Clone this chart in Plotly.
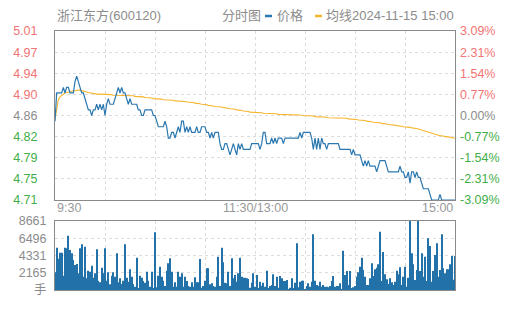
import plotly.graph_objects as go

# ---------------- data ----------------
stock_name = "浙江东方(600120)"
chart_name = "分时图"
legend_price = "价格"
legend_avg = "均线2024-11-15 15:00"
prev_close = 4.86
price_min, price_max = 4.71, 5.01
vol_max = 8661

time_labels = ["9:30", "11:30/13:00", "15:00"]
time_label_minutes = [0, 120, 240]

price_tick_text = ["4.71", "4.75", "4.79", "4.82", "4.86", "4.90", "4.94", "4.97", "5.01"]
pct_tick_text = ["-3.09%", "-2.31%", "-1.54%", "-0.77%", "0.00%", "0.77%", "1.54%", "2.31%", "3.09%"]
vol_tick_text = ["手", "2165", "4331", "6496", "8661"]

price = [
    4.85, 4.90, 4.90, 4.90, 4.90, 4.91, 4.90, 4.91, 4.91, 4.90,
    4.90, 4.90, 4.92, 4.93, 4.92, 4.91, 4.90, 4.90, 4.89, 4.88,
    4.87, 4.87, 4.86, 4.87, 4.87, 4.88, 4.87, 4.88, 4.87, 4.88,
    4.86, 4.88, 4.89, 4.88, 4.88, 4.88, 4.89, 4.90, 4.91, 4.90,
    4.91, 4.90, 4.90, 4.89, 4.88, 4.89, 4.88, 4.88, 4.88, 4.88,
    4.87, 4.87, 4.86, 4.86, 4.87, 4.87, 4.87, 4.87, 4.87, 4.86,
    4.86, 4.85, 4.84, 4.84, 4.84, 4.84, 4.85, 4.84, 4.82, 4.82,
    4.83, 4.83, 4.82, 4.83, 4.84, 4.83, 4.85, 4.85, 4.83, 4.84,
    4.83, 4.84, 4.83, 4.83, 4.83, 4.84, 4.83, 4.83, 4.84, 4.84,
    4.84, 4.83, 4.83, 4.82, 4.83, 4.82, 4.83, 4.83, 4.83, 4.81,
    4.80, 4.80, 4.81, 4.81, 4.80, 4.79, 4.80, 4.81, 4.80, 4.79,
    4.81, 4.80, 4.81, 4.80, 4.80, 4.80, 4.80, 4.80, 4.81, 4.81,
    4.81, 4.81, 4.81, 4.80, 4.81, 4.83, 4.83, 4.81, 4.81, 4.81,
    4.82, 4.81, 4.82, 4.81, 4.82, 4.82, 4.82, 4.81, 4.82, 4.82,
    4.82, 4.82, 4.82, 4.82, 4.82, 4.82, 4.82, 4.83, 4.82, 4.83,
    4.83, 4.83, 4.83, 4.83, 4.82, 4.80, 4.82, 4.80, 4.82, 4.80,
    4.82, 4.81, 4.81, 4.80, 4.81, 4.81, 4.81, 4.81, 4.81, 4.81,
    4.81, 4.80, 4.80, 4.80, 4.80, 4.80, 4.80, 4.80, 4.79, 4.80,
    4.79, 4.79, 4.79, 4.79, 4.78, 4.77, 4.78, 4.77, 4.78, 4.77,
    4.77, 4.77, 4.77, 4.76, 4.77, 4.78, 4.78, 4.78, 4.78, 4.77,
    4.76, 4.76, 4.76, 4.76, 4.76, 4.76, 4.76, 4.77, 4.76, 4.76,
    4.75, 4.75, 4.76, 4.74, 4.76, 4.76, 4.75, 4.76, 4.75, 4.75,
    4.74, 4.73, 4.73, 4.73, 4.73, 4.72, 4.71, 4.71, 4.71, 4.71,
    4.71, 4.72, 4.71, 4.71, 4.71, 4.71, 4.71, 4.71, 4.71, 4.71, 4.71,
]

avg_price = [
    4.853, 4.875, 4.888, 4.893, 4.896, 4.898, 4.900, 4.901, 4.902, 4.903,
    4.903, 4.904, 4.904, 4.905, 4.905, 4.905, 4.904, 4.903, 4.903, 4.902,
    4.901, 4.900, 4.900, 4.899, 4.899, 4.898, 4.898, 4.898, 4.897, 4.897,
    4.897, 4.897, 4.897, 4.897, 4.897, 4.896, 4.896, 4.896, 4.896, 4.896,
    4.896, 4.896, 4.896, 4.895, 4.895, 4.895, 4.895, 4.895, 4.894, 4.894,
    4.894, 4.893, 4.893, 4.893, 4.892, 4.892, 4.892, 4.891, 4.891, 4.890,
    4.890, 4.890, 4.889, 4.889, 4.889, 4.888, 4.888, 4.888, 4.887, 4.887,
    4.887, 4.887, 4.886, 4.886, 4.886, 4.886, 4.885, 4.885, 4.885, 4.884,
    4.884, 4.884, 4.883, 4.883, 4.882, 4.882, 4.881, 4.881, 4.880, 4.880,
    4.879, 4.879, 4.878, 4.878, 4.877, 4.877, 4.876, 4.876, 4.876, 4.875,
    4.875, 4.874, 4.874, 4.873, 4.873, 4.872, 4.872, 4.871, 4.871, 4.870,
    4.870, 4.869, 4.869, 4.868, 4.868, 4.867, 4.867, 4.866, 4.866, 4.866,
    4.865, 4.865, 4.865, 4.865, 4.865, 4.864, 4.864, 4.864, 4.864, 4.863,
    4.863, 4.863, 4.863, 4.863, 4.862, 4.862, 4.862, 4.862, 4.862, 4.862,
    4.862, 4.861, 4.861, 4.861, 4.861, 4.861, 4.861, 4.861, 4.860, 4.860,
    4.860, 4.860, 4.860, 4.860, 4.859, 4.859, 4.858, 4.858, 4.857, 4.857,
    4.857, 4.857, 4.857, 4.857, 4.856, 4.856, 4.856, 4.856, 4.856, 4.856,
    4.856, 4.856, 4.855, 4.855, 4.855, 4.855, 4.854, 4.854, 4.854, 4.853,
    4.853, 4.853, 4.852, 4.852, 4.852, 4.851, 4.851, 4.850, 4.850, 4.849,
    4.849, 4.848, 4.848, 4.848, 4.847, 4.847, 4.846, 4.846, 4.845, 4.845,
    4.844, 4.844, 4.843, 4.843, 4.843, 4.842, 4.842, 4.841, 4.841, 4.840,
    4.840, 4.840, 4.839, 4.839, 4.838, 4.838, 4.837, 4.837, 4.836, 4.835,
    4.834, 4.833, 4.832, 4.831, 4.830, 4.829, 4.828, 4.827, 4.826, 4.825,
    4.825, 4.824, 4.824, 4.823, 4.823, 4.822, 4.822, 4.821, 4.821, 4.820, 4.820,
]

volume = [
    2217, 5313, 3933, 4686, 4686, 1800, 5313, 5230, 6820, 5021,
    4602, 3766, 3138, 3264, 2092, 5230, 5732, 1674, 5439, 1464,
    2427, 2300, 3054, 1548, 2092, 5104, 1171, 962, 2803, 2092,
    5230, 1171, 2217, 711, 1800, 2217, 1674, 4602, 962, 1464,
    753, 1171, 5732, 1548, 1046, 2594, 1674, 753, 418, 4058,
    209, 1800, 1548, 1130, 920, 2300, 1171, 418, 2300, 209,
    7240, 335, 1800, 2930, 1674, 1171, 502, 2427, 3347, 3975,
    2300, 418, 962, 418, 2300, 1674, 2092, 418, 1674, 1130,
    502, 418, 962, 418, 1590, 962, 962, 3891, 293, 502,
    1171, 2720, 2720, 711, 837, 502, 418, 1674, 4184, 502,
    5313, 3473, 920, 837, 2300, 502, 3975, 1464, 1883, 1046,
    2092, 4058, 1674, 1548, 1548, 1464, 1380, 293, 920, 2092,
    420, 1880, 209, 1046, 544, 920, 418, 2427, 209, 502,
    628, 1966, 502, 1674, 293, 1757, 1464, 1130, 1130, 1255,
    125, 293, 1464, 209, 920, 5857, 335, 1046, 1171, 1171,
    125, 502, 837, 418, 1046, 6988, 1171, 628, 502, 1046,
    418, 628, 418, 418, 335, 502, 1130, 1757, 418, 502,
    502, 837, 125, 4937, 1883, 2385, 628, 2385, 209, 335,
    502, 1674, 2217, 2930, 4058, 2510, 1674, 628, 628, 1464,
    3347, 1757, 2594, 2803, 3222, 7322, 1130, 4770, 1966, 1339,
    753, 1464, 962, 628, 1046, 2427, 1966, 2845, 628, 1674,
    2930, 418, 1548, 8661, 4602, 3222, 1255, 2510, 8661, 2385,
    4602, 1674, 4184, 1130, 6485, 5523, 1046, 2385, 4393, 5857,
    1674, 2510, 6988, 2720, 2092, 2594, 2594, 3222, 4267, 1300, 4267,
]

# ---------------- styling ----------------
W, H = 505, 310
ML, MR, MT, MB = 55, 50, 31, 20
plot_h = H - MT - MB
main_bottom_px, vol_top_px = 200, 221
main_dom = [(H - MB - main_bottom_px) / plot_h, 1]
vol_dom = [0, (H - MB - vol_top_px) / plot_h]

FONT = "Liberation Sans, Arial, Noto Sans CJK SC, sans-serif"
RED, GREEN, GRAY = "#f27474", "#3fae49", "#8c8c8c"
BLUE, ORANGE, BAR = "#2b78b0", "#f7b52c", "#2271a8"
GRID = "#dcdcdc"
FRAME = "#8a8a8a"

minutes = list(range(len(price)))
n_ticks = len(price_tick_text)
tick_vals = [price_min + i * (price_max - price_min) / (n_ticks - 1) for i in range(n_ticks)]
vol_tick_vals = [i * vol_max / (len(vol_tick_text) - 1) for i in range(len(vol_tick_text))]


def colored(texts, vals):
    out = []
    for t, v in zip(texts, vals):
        c = RED if v > prev_close + 1e-9 else (GREEN if v < prev_close - 1e-9 else GRAY)
        out.append(f'<span style="color:{c}">{t}</span>')
    return out


fig = go.Figure()
fig.add_trace(go.Scatter(x=minutes, y=avg_price, mode="lines", line=dict(color=ORANGE, width=1.1),
                         xaxis="x", yaxis="y", hoverinfo="skip", showlegend=False))
fig.add_trace(go.Scatter(x=minutes, y=price, mode="lines", line=dict(color=BLUE, width=1.2),
                         xaxis="x", yaxis="y", showlegend=False))
fig.add_trace(go.Scatter(x=minutes, y=price, mode="lines", line=dict(color="rgba(0,0,0,0)", width=0),
                         xaxis="x", yaxis="y3", hoverinfo="skip", showlegend=False))
fig.add_trace(go.Bar(x=minutes, y=volume, marker=dict(color=BAR, line=dict(width=0)), width=0.62,
                     xaxis="x2", yaxis="y2", showlegend=False))

grid_x = list(range(0, 241, 30))
axis_common = dict(showline=True, linecolor=FRAME, linewidth=1, mirror=True, zeroline=False,
                   gridcolor=GRID, griddash="3px,3px", gridwidth=1)

fig.update_layout(
    width=W, height=H,
    margin=dict(l=ML, r=MR, t=MT, b=MB, autoexpand=False),
    paper_bgcolor="white", plot_bgcolor="white",
    font=dict(family=FONT, size=12, color=GRAY),
    bargap=0.3,
    xaxis=dict(domain=[0, 1], range=[0, 240], tickvals=grid_x, showticklabels=False, ticks="",
               showgrid=True, anchor="y", **axis_common),
    yaxis=dict(domain=main_dom, range=[price_min, price_max], tickvals=tick_vals,
               ticktext=colored(price_tick_text, tick_vals), ticks="", ticklabelstandoff=14,
               showgrid=True, anchor="x", tickfont=dict(size=12.5), **axis_common),
    yaxis3=dict(range=[price_min, price_max], overlaying="y", side="right", anchor="x",
                tickvals=tick_vals, ticktext=colored(pct_tick_text, tick_vals), ticks="",
                ticklabelstandoff=4, showgrid=False, showline=False, zeroline=False,
                tickfont=dict(size=12.5)),
    xaxis2=dict(domain=[0, 1], range=[0, 240], tickvals=grid_x, showticklabels=False, ticks="",
                showgrid=True, anchor="y2", **axis_common),
    yaxis2=dict(domain=vol_dom, range=[0, vol_max], tickvals=vol_tick_vals, ticktext=vol_tick_text,
                ticks="", ticklabelstandoff=5, showgrid=True, anchor="x2",
                tickfont=dict(size=12.5, color=GRAY), **axis_common),
)


def py(px):
    return (H - MB - px) / plot_h


def px_x(px):
    return (px - ML) / (W - ML - MR)


head_y = py(15.5)
anns = [
    dict(text=stock_name, x=px_x(55), xanchor="left"),
    dict(text=chart_name, x=px_x(220), xanchor="left"),
    dict(text=legend_price, x=px_x(275), xanchor="left"),
    dict(text=legend_avg, x=px_x(324), xanchor="left"),
]
for a in anns:
    fig.add_annotation(xref="paper", yref="paper", y=head_y, yanchor="middle", showarrow=False,
                       font=dict(size=13, color=GRAY, family=FONT), **a)

for lbl, m, anc in zip(time_labels, time_label_minutes, ["left", "center", "right"]):
    fig.add_annotation(xref="x", yref="paper", x=m, y=main_dom[0], yanchor="top", xanchor=anc,
                       text=lbl, showarrow=False, font=dict(size=12.5, color="#999999", family=FONT),
                       xshift=0, yshift=1)

fig.add_shape(type="line", xref="paper", yref="paper", x0=px_x(265), x1=px_x(272), y0=py(16), y1=py(16),
              line=dict(color=BLUE, width=2.5))
fig.add_shape(type="line", xref="paper", yref="paper", x0=px_x(315), x1=px_x(322), y0=py(16), y1=py(16),
              line=dict(color=ORANGE, width=2.5))

fig.write_html("out.html")
